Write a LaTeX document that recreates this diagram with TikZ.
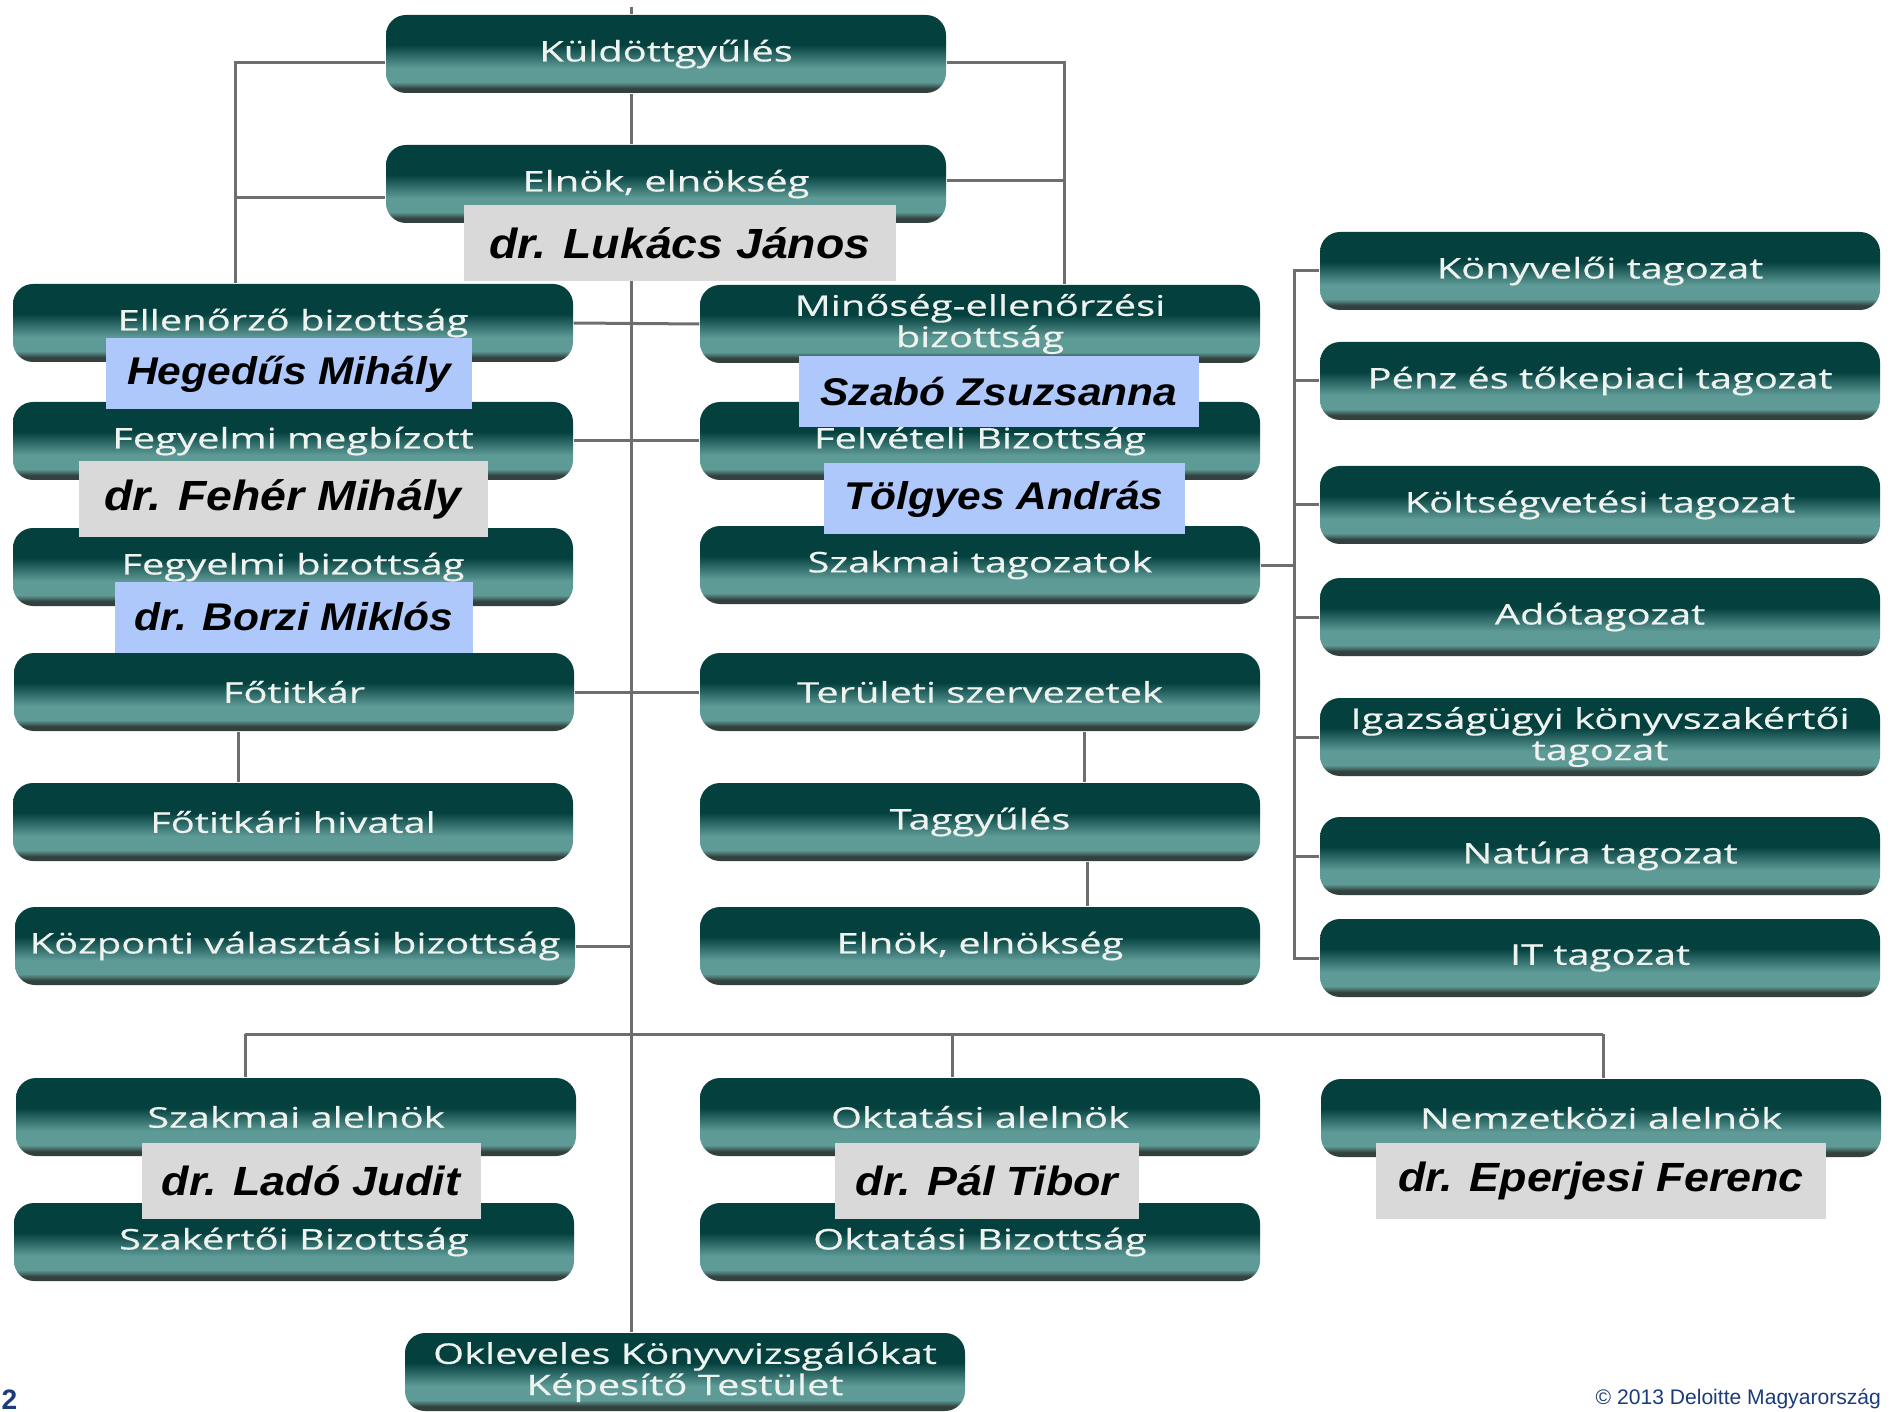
\documentclass[tikz,border=0pt]{standalone}
\usepackage{fontspec}
\usetikzlibrary{backgrounds}
\newfontfamily\boxfont[FakeStretch=1.4,FakeBold=0.5]{Open Sans}
\newfontfamily\namefont[FakeStretch=1.1]{Liberation Sans}
\newfontfamily\footfont{Liberation Sans}
\definecolor{tealdark}{HTML}{04403E}
\definecolor{teallight}{HTML}{5E9B97}
\definecolor{tealrim}{HTML}{33413E}
\definecolor{boxtext}{HTML}{EEF3EF}
\definecolor{linegray}{HTML}{6E6E6E}
\definecolor{taggray}{HTML}{D9D9D9}
\definecolor{tagblue}{HTML}{AFC8FB}
\definecolor{footblue}{HTML}{1B3C7C}
\pgfdeclareverticalshading{okteal}{100bp}{color(0bp)=(tealrim); color(25bp)=(tealrim);
   color(28bp)=(tealrim); color(32bp)=(teallight); color(41bp)=(teallight);
   color(56bp)=(tealdark); color(75bp)=(tealdark); color(100bp)=(tealdark)}

\begin{document}
\begin{tikzpicture}[x=0.1mm,y=-0.1mm,
   unit/.style={rounded corners=2mm,shade,shading=okteal,minimum width=56mm,
      minimum height=7.8mm,inner sep=0pt,text=boxtext,align=center,
      font=\boxfont\fontsize{8.1}{8.9}\selectfont},
   graytag/.style={fill=taggray,minimum height=7.6mm,inner sep=0pt,
      font=\namefont\bfseries\itshape\fontsize{12}{14}\selectfont},
   bluetag/.style={fill=tagblue,minimum height=7.1mm,inner sep=0pt,
      font=\namefont\bfseries\itshape\fontsize{11}{13}\selectfont},
   link/.style={draw=linegray,line width=0.3mm}
]
   \useasboundingbox (0,0) rectangle (1890,1411);
   \clip (0,0) rectangle (1890,1411);

   % top
   \node[unit] (kuld) at (666,54) {Küldöttgyűlés};
   \node[unit] (elnok) at (666,184) {Elnök, elnökség};

   % left column
   \node[unit] (ellen) at (293,323) {Ellenőrző bizottság};
   \node[unit] (fegymeg) at (293,441) {Fegyelmi megbízott};
   \node[unit] (fegybiz) at (293,567) {Fegyelmi bizottság};
   \node[unit] (fotit) at (294,692) {Főtitkár};
   \node[unit] (fohiv) at (293,822) {Főtitkári hivatal};
   \node[unit] (kozp) at (295,946) {Központi választási bizottság};

   % middle column
   \node[unit] (minoseg) at (980,324) {Minőség-ellenőrzési\\bizottság};
   \node[unit] (felv) at (980,441) {Felvételi Bizottság};
   \node[unit] (szaktag) at (980,565) {Szakmai tagozatok};
   \node[unit] (terul) at (980,692) {Területi szervezetek};
   \node[unit] (tagy) at (980,822) {Taggyűlés};
   \node[unit] (elnok2) at (980,946) {Elnök, elnökség};

   % right column
   \node[unit] (konyv) at (1600,271) {Könyvelői tagozat};
   \node[unit] (penz) at (1600,381) {Pénz és tőkepiaci tagozat};
   \node[unit] (kolts) at (1600,505) {Költségvetési tagozat};
   \node[unit] (ado) at (1600,617) {Adótagozat};
   \node[unit] (igazs) at (1600,737) {Igazságügyi könyvszakértői\\tagozat};
   \node[unit] (natura) at (1600,856) {Natúra tagozat};
   \node[unit] (it) at (1600,958) {IT tagozat};

   % bottom
   \node[unit] (szakal) at (296,1117) {Szakmai alelnök};
   \node[unit] (szaker) at (294,1242) {Szakértői Bizottság};
   \node[unit] (oktal) at (980,1117) {Oktatási alelnök};
   \node[unit] (oktbiz) at (980,1242) {Oktatási Bizottság};
   \node[unit] (nemz) at (1601,1118) {Nemzetközi alelnök};
   \node[unit] (okl) at (685,1372) {Okleveles Könyvvizsgálókat\\Képesítő Testület};

   \coordinate (ttop) at (631,7);
   \coordinate (lbus) at (235,63);
   \coordinate (rbus) at (1064,63);
   \coordinate (rbr) at (1294,269);
   \coordinate (bbusL) at (245,1034);
   \coordinate (bbusR) at (1603,1034);

   \begin{scope}[on background layer]
      \draw[link] (ttop) -- (ttop |- kuld.north);
      \draw[link] (kuld.south -| ttop) -- (elnok.north -| ttop);
      \draw[link] (elnok.south -| ttop) -- (okl.north -| ttop);

      \draw[link] (kuld.west |- lbus) -- (lbus) -- (lbus |- ellen.north);
      \draw[link] ([yshift=-1.4mm]elnok.west) -- ([yshift=-1.4mm]elnok.west -| lbus);
      \draw[link] (kuld.east |- rbus) -- (rbus) -- (rbus |- minoseg.north);
      \draw[link] ([yshift=0.3mm]elnok.east) -- ([yshift=0.3mm]elnok.east -| rbus);

      \draw[link] (ellen.east) -- (minoseg.west);
      \draw[link] (fegymeg.east) -- (felv.west);
      \draw[link] (fotit.east) -- (terul.west);
      \draw[link] (kozp.east) -- (kozp.east -| ttop);
      \draw[link] ([xshift=-5.6mm]fotit.south) -- ([xshift=-5.6mm]fotit.south |- fohiv.north);
      \draw[link] ([xshift=10.4mm]terul.south) -- ([xshift=10.4mm]tagy.north);
      \draw[link] ([xshift=10.7mm]tagy.south) -- ([xshift=10.7mm]elnok2.north);

      \draw[link] (szaktag.east) -- (szaktag.east -| rbr);
      \draw[link] (konyv.west) -- (konyv.west -| rbr) -- (it.west -| rbr) -- (it.west);
      \foreach \b in {penz,kolts,ado,igazs,natura}
         \draw[link] (\b.west) -- (\b.west -| rbr);

      \draw[link] (bbusL) -- (bbusR);
      \draw[link] (bbusL) -- (bbusL |- szakal.north);
      \draw[link] ([xshift=-2.8mm]oktal.north) -- ([xshift=-2.8mm]oktal.north |- bbusL);
      \draw[link] (bbusR) -- (bbusR |- nemz.north);
   \end{scope}

   % names
   \node[graytag,minimum width=43.2mm] (luk) at (680,243) {dr. Lukács János};
   \node[bluetag,minimum width=36.6mm] (heg) at (289,374) {Hegedűs Mihály};
   \node[graytag,minimum width=40.9mm] (feh) at (283,499) {dr. Fehér Mihály};
   \node[bluetag,minimum width=35.8mm] (bor) at (294,617) {dr. Borzi Miklós};
   \node[bluetag,minimum width=40mm] (sza) at (999,392) {Szabó Zsuzsanna};
   \node[bluetag,minimum width=36.1mm] (tol) at (1004,499) {Tölgyes András};
   \node[graytag,minimum width=33.9mm,font=\namefont\bfseries\itshape\fontsize{11.6}{14}\selectfont] (lad) at (311,1181) {dr. Ladó Judit};
   \node[graytag,minimum width=30.4mm,font=\namefont\bfseries\itshape\fontsize{11.6}{14}\selectfont] (pal) at (987,1181) {dr. Pál Tibor};
   \node[graytag,minimum width=45mm,font=\namefont\bfseries\itshape\fontsize{11.6}{14}\selectfont] (epe) at (1601,1181) {dr. Eperjesi Ferenc};

   % footer
   \node[anchor=south west,inner sep=0pt,text=footblue,font=\footfont\bfseries\fontsize{8}{9}\selectfont] (pnum) at (1,1410) {2};
   \node[anchor=south west,inner sep=0pt,text=footblue,font=\footfont\fontsize{6}{7}\selectfont] (copy) at (1595,1410) {© 2013 Deloitte Magyarország};
\end{tikzpicture}
\end{document}
